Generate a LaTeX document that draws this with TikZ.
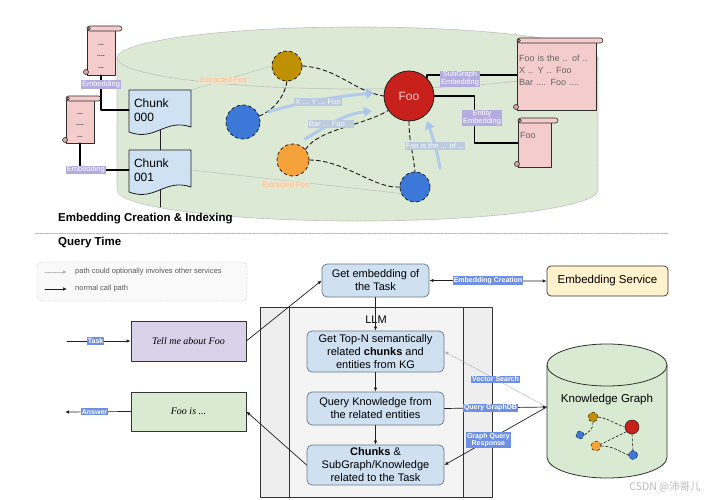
\documentclass[tikz,border=0pt]{standalone}
\usepackage{fontspec}
\setmainfont{Liberation Sans}
\newfontfamily\cjkfont{Noto Sans CJK SC}
\newfontfamily\handfont{Liberation Serif}
\usetikzlibrary{arrows.meta,calc,positioning}

\definecolor{cylgreen}{HTML}{DCE9D5}
\definecolor{chunkblue}{HTML}{CFE2F3}
\definecolor{scrollpink}{HTML}{F4CCCC}
\definecolor{curlpink}{HTML}{D9A8A8}
\definecolor{entolive}{HTML}{BF9000}
\definecolor{entblue}{HTML}{3C78D8}
\definecolor{entorange}{HTML}{F6A23A}
\definecolor{entred}{HTML}{C8201A}
\definecolor{lblpurple}{HTML}{B4ACE0}
\definecolor{lblblue}{HTML}{6D8FE4}
\definecolor{fadeblue}{HTML}{B9C9E0}
\definecolor{flowblue}{HTML}{A4C2F4}
\definecolor{extfill}{HTML}{F6E2C8}
\definecolor{exttext}{HTML}{F4C08C}
\definecolor{boxblue}{HTML}{CFE0F1}
\definecolor{boxedge}{HTML}{6B7886}
\definecolor{tasklav}{HTML}{D9D2E9}
\definecolor{ansgreen}{HTML}{D9EAD3}
\definecolor{svcyellow}{HTML}{FFF2CC}
\definecolor{llmgray}{HTML}{EEEEEE}
\definecolor{llminner}{HTML}{F4F4F4}

% scroll: body left, top, body right, bottom
\newcommand{\scrollshape}[4]{%
  \draw[scrollline] (#1,#2+3) rectangle (#3,#4);
  \draw[scrollline, rounded corners=2.5pt] (#1,#2) rectangle (#3+7,#2+5);
  \draw[scrollline, fill=curlpink] (#1+2,#2+2.5) circle (1.5pt);
  \draw[scrollline, fill=curlpink] (#1-1,#4-3) circle (2.5pt);
}
% chunk document: top-left corner
\newcommand{\chunkshape}[2]{%
  \draw[chunkline] (#1,#2) -- (#1+62,#2) -- (#1+62,#2+37)
    .. controls (#1+36,#2+28) and (#1+26,#2+52) .. (#1,#2+42) -- cycle;
}

\tikzset{
  cylline/.style={draw=gray!55, densely dotted, line width=0.7pt},
  chunkline/.style={draw=gray!25!black, fill=chunkblue, line width=0.8pt},
  chunktxt/.style={minimum width=62pt, minimum height=40pt, inner sep=0pt,
    text width=52pt, align=left, font=\fontsize{12}{14}\selectfont},
  scrollline/.style={draw=gray!35!black, fill=scrollpink, line width=0.6pt},
  scrolltxt/.style={inner sep=2pt, align=left, text=gray!80!black,
    font=\fontsize{9}{12}\selectfont},
  dots/.style={inner sep=0pt, align=center, text=gray!60!black,
    font=\bfseries\fontsize{7}{11.5}\selectfont},
  ent/.style={circle, draw=gray!25!black, dashed, line width=0.8pt, inner sep=0pt},
  entline/.style={draw=gray!20!black, line width=0.9pt, dash pattern=on 4pt off 3pt},
  fadeline/.style={draw=gray!60, line width=0.5pt, opacity=0.7},
  embline/.style={draw=black, line width=1.4pt},
  flowarrow/.style={draw=flowblue, line width=3pt, opacity=0.75,
    -{Triangle[length=8pt,width=10pt]}},
  toplbl/.style={fill=lblpurple, text=white, inner sep=1pt, align=center,
    font=\fontsize{7.5}{8}\selectfont},
  fadelbl/.style={fill=fadeblue, text=white, inner sep=1pt, opacity=0.9,
    font=\fontsize{7.5}{8}\selectfont},
  extlbl/.style={fill=extfill, text=exttext, inner sep=1pt, opacity=0.9,
    font=\fontsize{7.5}{8}\selectfont},
  calllbl/.style={fill=lblblue, text=white, inner sep=1pt, align=center,
    font=\bfseries\fontsize{7}{7.5}\selectfont},
  stepbox/.style={rectangle, rounded corners=5pt, draw=boxedge, fill=boxblue,
    line width=0.7pt, align=center, inner sep=2pt, font=\fontsize{11}{13}\selectfont},
  iobox/.style={rectangle, draw=gray!40!black, line width=0.7pt, minimum width=115pt,
    font=\handfont\itshape\fontsize{10}{12}\selectfont},
  conn/.style={draw=gray!25!black, line width=0.7pt, -{Latex[length=4pt,width=3.5pt]}},
  optconn/.style={draw=gray!60, line width=0.7pt, densely dotted,
    -{Latex[length=4pt,width=3.5pt]}},
  heading/.style={anchor=west, inner sep=0pt, font=\bfseries\fontsize{11.5}{13}\selectfont},
  legtxt/.style={anchor=west, inner sep=0pt, text=gray!70!black,
    font=\fontsize{7.5}{9}\selectfont},
  mini/.style={circle, draw=gray!25!black, dashed, line width=0.5pt, inner sep=0pt},
  miniline/.style={draw=gray!20!black, line width=0.6pt, dash pattern=on 2.5pt off 2pt},
}

\begin{document}
\begin{tikzpicture}[x=1pt, y=-1pt, >=Latex, line cap=round, line join=round]
  \useasboundingbox (0,0) rectangle (720,500);

  % --- Top: embedding store (cylinder) ---
  \fill[cylgreen] (117,58) -- (117,190)
    arc[start angle=180, end angle=0, x radius=240.5, y radius=31] -- (598,58)
    arc[start angle=0, end angle=-180, x radius=240.5, y radius=31] -- cycle;
  \draw[cylline] (117,58) -- (117,190)
    arc[start angle=180, end angle=0, x radius=240.5, y radius=31] -- (598,58);
  \draw[cylline] (357.5,58) ellipse [x radius=240.5, y radius=31];

  % scrolls with embeddings
  \scrollshape{87}{26}{115}{75}
  \node[dots] (sc1) at (101,56) [minimum width=28pt, minimum height=38pt] {...\\....\\...};
  \scrollshape{66}{96}{94}{143}
  \node[dots] (sc2) at (80,125) [minimum width=28pt, minimum height=36pt] {...\\....\\...};

  % chunks
  \chunkshape{129}{90}
  \node[chunktxt] (c0) at (160,110) {Chunk\\000};
  \chunkshape{129}{150}
  \node[chunktxt] (c1) at (160,170) {Chunk\\001};
  \coordinate (cend) at (160,207);
  \draw[draw=gray!25!black, line width=0.8pt] (c0.south) -- (c1.north);
  \draw[draw=gray!25!black, line width=0.8pt] (c1.south) -- (cend);

  \draw[embline] (sc1.south) |- (c0.west) node[toplbl, pos=0.13] (le1) {Embedding};
  \draw[embline] (sc2.south) |- (c1.west) node[toplbl, pos=0.56] (le2) {Embedding};

  % entities
  \node[ent, fill=entolive, minimum size=30pt] (olv) at (287,66) {};
  \node[ent, fill=entblue, minimum size=34pt] (bl1) at (243,122) {};
  \node[ent, fill=entorange, minimum size=32pt] (org) at (293,160) {};
  \node[ent, fill=entblue, minimum size=30pt] (bl2) at (415,187) {};
  \node[circle, draw=gray!25!black, fill=entred, line width=0.8pt, minimum size=50pt,
    text=scrollpink, font=\fontsize{12}{14}\selectfont] (foo) at (409,96) {Foo};

  % faint extraction links
  \draw[fadeline] (c0.north east) -- (olv.west) node[extlbl, pos=0.4] (lx1) {Extracted Foo};
  \draw[fadeline] (c1.east) -- (bl2.205) node[extlbl, pos=0.45, yshift=-4pt] (lx2) {Extracted Foo};

  % relations
  \draw[entline] (olv.east) .. controls +(35,2) and +(-30,-5) .. (foo.west);
  \draw[entline] (bl1.20) .. controls +(18,-8) and +(-2,12) .. (olv.south);
  \draw[entline] (org.40) .. controls +(12,-20) and +(-25,15) .. (foo.215);
  \draw[entline] (org.east) .. controls +(35,0) and +(-25,2) .. (bl2.west);
  \draw[entline] (foo.south) .. controls +(0,20) and +(-2,-20) .. (bl2.north);

  % text flowing into Foo
  \coordinate (a1s) at (268,112);
  \coordinate (a1e) at (374,93);
  \coordinate (a2s) at (305,139);
  \coordinate (a2e) at (372,111);
  \coordinate (a3s) at (440,168);
  \coordinate (a3e) at (427,121);
  \draw[flowarrow] (a1s) .. controls (300,102) and (340,96) .. (a1e);
  \draw[flowarrow] (a2s) .. controls (330,124) and (345,114) .. (a2e);
  \draw[flowarrow] (a3s) .. controls (437,150) and (432,135) .. (a3e);
  \node[fadelbl] (lf1) at (318,102) {X ... Y ... Foo};
  \node[fadelbl] (lf2) at (331,124) {Bar ... Foo ...};
  \node[fadelbl] (lf3) at (435,146) {Foo is the ... of ...};

  % subgraph and entity scrolls
  \scrollshape{517}{38}{596}{110}
  \node[scrolltxt, text width=75pt, minimum width=79pt] (bsc) at (556.5,70)
    {Foo is the .. of ..\\X .. Y .. Foo\\Bar .... Foo ....};
  \scrollshape{518}{118}{551}{167}
  \node[scrolltxt, text width=29pt, minimum width=33pt] (ssc) at (534.5,135) {Foo};

  \draw[embline] (foo.45) |- ([yshift=-5pt]bsc.west);
  \node[toplbl] (lsg) at (460,79) {SubGraph\\Embedding};
  \draw[embline] (foo.east) -- ++(40,0) |- ([yshift=-8pt]ssc.west);
  \node[toplbl] (len) at (482,118) {Entity\\Embedding};

  \node[heading] (h1) at (58,219) {Embedding Creation \& Indexing};

  % --- separator ---
  \draw[draw=gray!60, densely dotted, line width=0.7pt] (35,233) -- (668,233);

  % --- Bottom: query time ---
  \node[heading] (h2) at (58,243) {Query Time};

  % legend
  \node[draw=gray!50, densely dotted, fill=gray!5, rounded corners=5pt,
    minimum width=210pt, minimum height=39pt] (leg) at (142,281.5) {};
  \coordinate (l1a) at (45,272);
  \coordinate (l1b) at (67,272);
  \coordinate (l2a) at (45,289);
  \coordinate (l2b) at (67,289);
  \draw[optconn] (l1a) -- (l1b);
  \draw[conn] (l2a) -- (l2b);
  \node[legtxt] (lt1) at (75,272) {path could optionally involves other services};
  \node[legtxt] (lt2) at (75,289) {normal call path};

  % LLM container
  \draw[draw=gray!40!black, fill=llmgray, line width=0.7pt] (260,307) rectangle (492,497);
  \draw[draw=gray!40!black, fill=llminner, line width=0.7pt] (289,307) rectangle (463,497);
  \node[font=\fontsize{11}{13}\selectfont] (llm) at (376,320) {LLM};

  % steps
  \node[stepbox, minimum width=107pt, minimum height=33pt] (emb) at (375.5,280.5)
    {Get embedding of\\the Task};
  \node[stepbox, minimum width=137pt, minimum height=41pt] (topn) at (375.5,351.5)
    {Get Top-N semantically\\related \textbf{chunks} and\\entities from KG};
  \node[stepbox, minimum width=137pt, minimum height=33pt] (qk) at (375.5,408.5)
    {Query Knowledge from\\the related entities};
  \node[stepbox, minimum width=137pt, minimum height=40pt] (chk) at (375.5,465)
    {\textbf{Chunks} \&\\SubGraph/Knowledge\\related to the Task};

  % input / output
  \node[iobox, fill=tasklav, minimum height=40pt] (tell) at (188.5,341) {Tell me about Foo};
  \node[iobox, fill=ansgreen, minimum height=39pt] (ans) at (188.5,411.5) {Foo is ...};
  \coordinate (tin) at (67,341);
  \coordinate (aout) at (65,412);
  \draw[conn] (tin) -- (tell.west) node[calllbl, pos=0.45] (ltask) {Task};
  \draw[conn] (ans.west) -- (aout) node[calllbl, pos=0.55] (lans) {Answer};

  % services
  \node[rectangle, rounded corners=4pt, draw=gray!40!black, fill=svcyellow,
    line width=0.7pt, minimum width=121pt, minimum height=30pt,
    font=\fontsize{11.5}{13}\selectfont] (esvc) at (607.5,281) {Embedding Service};

  % knowledge graph cylinder
  \fill[ansgreen] (547,365) -- (547,457)
    arc[start angle=180, end angle=0, x radius=60, y radius=21] -- (667,365)
    arc[start angle=0, end angle=-180, x radius=60, y radius=21] -- cycle;
  \draw[draw=gray!40!black, line width=0.8pt] (547,365) -- (547,457)
    arc[start angle=180, end angle=0, x radius=60, y radius=21] -- (667,365);
  \draw[draw=gray!40!black, line width=0.8pt] (607,365) ellipse [x radius=60, y radius=21];
  \node[minimum width=120pt, minimum height=10pt, inner sep=0pt] (kg) at (607,407) {};
  \node[font=\fontsize{11.5}{13}\selectfont] (kgt) at (607,400) {Knowledge Graph};
  \node[mini, fill=entolive, minimum size=10pt] (m1) at (593,417) {};
  \node[mini, fill=entred, solid, minimum size=14pt] (m2) at (632,427) {};
  \node[mini, fill=entblue, minimum size=8pt] (m3) at (580,435) {};
  \node[mini, fill=entorange, minimum size=10pt] (m4) at (596,446) {};
  \node[mini, fill=entblue, minimum size=9pt] (m5) at (633,455) {};
  \draw[miniline] (m1.east) .. controls +(12,2) and +(-10,-3) .. (m2.west);
  \draw[miniline] (m1.south) .. controls +(0,8) and +(4,-3) .. (m3.east);
  \draw[miniline] (m2.220) -- (m4.20);
  \draw[miniline] (m4.east) .. controls +(12,0) and +(-8,-3) .. (m5.west);
  \draw[miniline] (m2.south) -- (m5.north);

  % call paths
  \draw[conn] (tell.east) -- (emb.west);
  \draw[conn] (emb.south) -- (topn.north);
  \draw[conn] (topn.south) -- (qk.north);
  \draw[conn] (qk.south) -- (chk.north);
  \draw[conn] (chk.west) -- (ans.east);
  \draw[draw=gray!25!black, line width=0.7pt, {Latex[length=4pt,width=3.5pt]}-{Latex[length=4pt,width=3.5pt]}]
    (emb.east) -- (esvc.west) node[calllbl, midway] (lec) {Embedding Creation};
  \draw[optconn] (kg.west) -- (topn.east) node[calllbl, midway] (lvs) {Vector Search};
  \draw[conn] (qk.east) -- (kg.west) node[calllbl, pos=0.45] (lqg) {Query GraphDB};
  \draw[conn] (kg.west) -- (chk.east) node[calllbl, pos=0.57] (lgr) {Graph Query\\Response};

  \node[text=gray!55, font=\cjkfont\fontsize{10.5}{12}\selectfont] (wm) at (665,487) {CSDN @沛哥儿};
\end{tikzpicture}
\end{document}
